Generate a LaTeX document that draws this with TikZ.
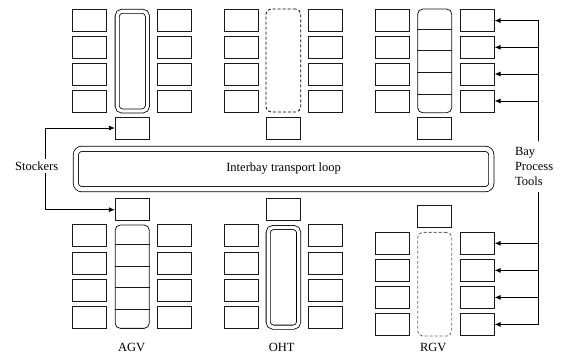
\documentclass[tikz,border=0pt]{standalone}
\usepackage{fontspec}
\setmainfont{Liberation Serif}
\usetikzlibrary{arrows.meta,calc}
\begin{document}
\begin{tikzpicture}[x=1pt,y=-1pt,
  every node/.style={font=\fontsize{12.5}{15}\selectfont},
  box/.style={draw=black!90, line width=0.8pt, minimum width=34pt, minimum height=22pt, inner sep=0pt},
  bar/.style={draw=black!90, line width=0.8pt, rounded corners=5pt, minimum width=34pt, inner sep=0pt},
  dbar/.style={bar, dash pattern=on 3pt off 2pt},
  dbl/.style={draw, line width=0.8pt, double, double distance=3.3pt, rounded corners=5pt, inner sep=0pt},
  arr/.style={line width=0.8pt, -{Latex[length=6pt,width=5pt]}},
  ln/.style={line width=0.8pt, draw=black!90}
]
\useasboundingbox (0,0) rectangle (562,354);

% top columns
\foreach \i/\y in {1/20.6,2/47.3,3/74,4/101} {
  \node[box] (tAL\i) at (89.7,\y) {};
  \node[box] (tAR\i) at (174.2,\y) {};
  \node[box] (tOL\i) at (241.5,\y) {};
  \node[box] (tOR\i) at (325.8,\y) {};
  \node[box] (tRL\i) at (392.2,\y) {};
  \node[box] (tRR\i) at (477.2,\y) {};
}
% bottom columns AGV / OHT
\foreach \i/\y in {1/235.8,2/263.0,3/290.3,4/317.5} {
  \node[box] (bAL\i) at (89.7,\y) {};
  \node[box] (bAR\i) at (174.2,\y) {};
  \node[box] (bOL\i) at (241.5,\y) {};
  \node[box] (bOR\i) at (325.8,\y) {};
}
% bottom columns RGV
\foreach \i/\y in {1/243.3,2/270.4,3/297.4,4/324.4} {
  \node[box] (bRL\i) at (392.2,\y) {};
  \node[box] (bRR\i) at (477.2,\y) {};
}

% bays (top)
\node[dbl, minimum width=30.3pt, minimum height=99.8pt] (tAbar) at (132.3,61.1) {};
\node[dbar, draw=black, minimum width=34.7pt, minimum height=103pt] (tObar) at (283.3,60.5) {};
\node[bar, minimum height=103.7pt] (tRbar) at (434.7,60.9) {};
\foreach \y in {29,50.7,72.3,94.3}
  \draw[ln] (tRbar.west |- 0,\y) -- (tRbar.east |- 0,\y);

% bays (bottom)
\node[bar, minimum height=103.3pt] (bAbar) at (132.2,276.7) {};
\foreach \y in {244.3,266,287.7,309}
  \draw[ln] (bAbar.west |- 0,\y) -- (bAbar.east |- 0,\y);
\node[dbl, minimum width=30.5pt, minimum height=99.7pt] (bObar) at (283.4,277.3) {};
\node[dbar, draw=black!60, minimum height=103.7pt] (bRbar) at (434.7,284.2) {};

% stockers
\node[box] (sA1) at (132.3,128) {};
\node[box] (sO1) at (283.3,128) {};
\node[box] (sR1) at (434.7,128) {};
\node[box] (sA2) at (132.3,209.7) {};
\node[box] (sO2) at (283.3,209.7) {};
\node[box] (sR2) at (434.7,216.2) {};

% interbay loop
\node[dbl, double distance=4.4pt, rounded corners=6pt, minimum width=415.4pt, minimum height=40.3pt] (loop) at (283.6,169) {Interbay transport loop};

% labels
\node (agv) at (131.7,347.7) {AGV};
\node (oht) at (281.7,347.7) {OHT};
\node (rgv) at (433.3,347.7) {RGV};

\node[inner xsep=1pt, inner ysep=2pt] (stk) at (36.7,166) {Stockers};
\coordinate (sx) at (45,0);
\draw[arr] (stk.north -| sx) |- (sA1.west);
\draw[arr] (stk.south -| sx) |- (sA2.west);

\node[align=left, inner xsep=1pt, inner ysep=6pt] (bay) at (534.1,166.7) {Bay\\Process\\Tools};
\coordinate (bx) at (538.3,0);
\foreach \i in {1,...,4} {
  \draw[arr] (bay.north -| bx) |- (tRR\i.east);
  \draw[arr] (bay.south -| bx) |- (bRR\i.east);
}
\end{tikzpicture}
\end{document}
